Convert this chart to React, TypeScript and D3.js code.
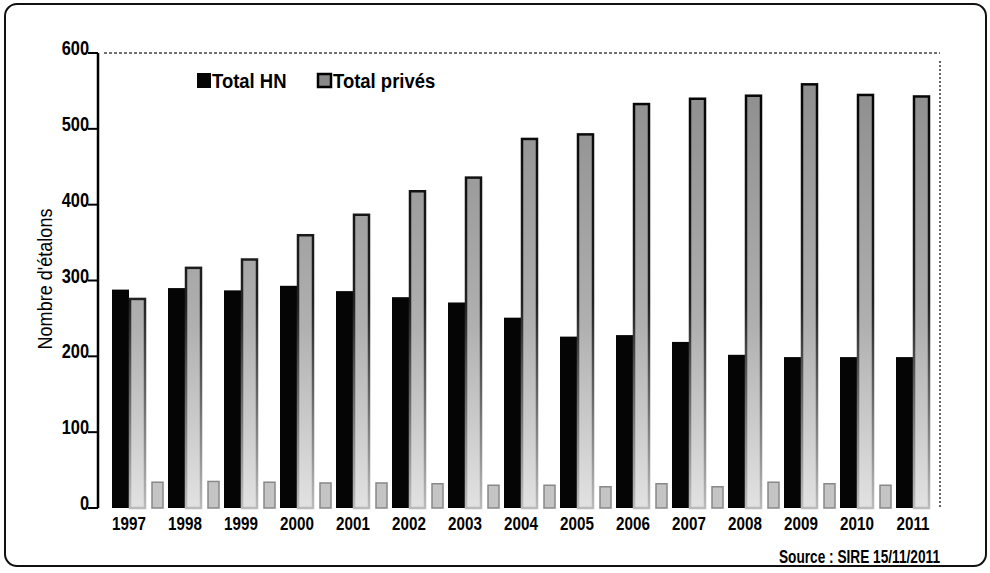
import React from "react";
import * as d3 from "d3";

const years = ["1997","1998","1999","2000","2001","2002","2003","2004","2005","2006","2007","2008","2009","2010","2011"];
const totalHN = [288, 290, 287, 293, 286, 278, 271, 251, 226, 228, 219, 202, 199, 199, 199];
const totalPrives = [277, 318, 329, 361, 388, 419, 437, 488, 494, 534, 541, 545, 560, 546, 544];
const smallSeries = [34, 35, 34, 33, 33, 32, 30, 30, 28, 32, 28, 34, 32, 30, 0];
const yTicks = [0, 100, 200, 300, 400, 500, 600];
const seriesNames = ["Total HN", "Total privés"];

const FONT = "'Liberation Sans', Arial, sans-serif";

type NTextProps = {
  x: number; y: number; sx: number; size: number; bold?: boolean;
  anchor?: "start" | "middle" | "end"; children: React.ReactNode; rotate?: number;
};
function NText({ x, y, sx, size, bold, anchor = "start", children, rotate = 0 }: NTextProps) {
  return (
    <g transform={`translate(${x},${y}) rotate(${rotate}) scale(${sx},1)`}>
      <text x={0} y={0} textAnchor={anchor} fontFamily={FONT} fontWeight={bold ? "bold" : "normal"} fontSize={size} fill="#000">
        {children}
      </text>
    </g>
  );
}

export default function App() {
  const W = 990, H = 573;
  const plotLeft = 98, plotRight = 940, plotTop = 53, plotBottom = 508;

  const y = d3.scaleLinear().domain([0, 600]).range([plotBottom, plotTop]);
  const x0 = d3.scaleBand<string>().domain(years).range([108, 948]).paddingInner(0).paddingOuter(0);
  const x1 = d3.scaleBand<string>().domain(seriesNames).range([4, 38]).padding(0);
  const smallOffset = 44, smallWidth = 11;

  return (
    <svg width={W} height={H} style={{ position: "absolute", left: 0, top: 0, background: "#fff" }}>
      <defs>
        <linearGradient id="privFill" gradientUnits="userSpaceOnUse" x1="0" y1={plotTop} x2="0" y2={plotBottom}>
          <stop offset="0" stopColor="#8a8a8a" />
          <stop offset="0.6" stopColor="#b0b0b0" />
          <stop offset="1" stopColor="#e2e2e2" />
        </linearGradient>
        <linearGradient id="privStroke" gradientUnits="userSpaceOnUse" x1="0" y1={plotTop} x2="0" y2={plotBottom}>
          <stop offset="0" stopColor="#000" />
          <stop offset="0.55" stopColor="#222" />
          <stop offset="1" stopColor="#bbb" />
        </linearGradient>
      </defs>

      {/* outer rounded frame */}
      <rect x={5} y={4} width={981} height={562} rx={12} ry={12} fill="none" stroke="#111" strokeWidth={2} />

      {/* top dotted line and right speckled border */}
      <line x1={plotLeft + 6} y1={plotTop} x2={plotRight} y2={plotTop} stroke="#444" strokeWidth={1.5} strokeDasharray="3 2" />
      <line x1={plotRight} y1={plotTop + 8} x2={plotRight} y2={plotBottom} stroke="#666" strokeWidth={2} strokeDasharray="2 2" />

      {/* bars */}
      {years.map((yr, i) => {
        const b = x0(yr)!;
        const hnX = b + x1("Total HN")!;
        const prX = b + x1("Total privés")!;
        const bw = x1.bandwidth();
        return (
          <g key={yr}>
            <rect x={hnX} y={y(totalHN[i])} width={bw} height={y(0) - y(totalHN[i])} fill="#050505" />
            <rect x={prX + 1} y={y(totalPrives[i]) + 1} width={bw - 2} height={y(0) - y(totalPrives[i]) - 1}
              fill="url(#privFill)" stroke="url(#privStroke)" strokeWidth={2.5} />
            {smallSeries[i] > 0 && (
              <rect x={b + smallOffset} y={y(smallSeries[i])} width={smallWidth} height={y(0) - y(smallSeries[i])}
                fill="#c4c4c4" stroke="#888" strokeWidth={1.5} />
            )}
          </g>
        );
      })}

      {/* y axis */}
      <line x1={plotLeft} y1={plotTop} x2={plotLeft} y2={plotBottom} stroke="#000" strokeWidth={2.5} />
      {yTicks.map((t) => (
        <g key={t}>
          <line x1={plotLeft - 10} y1={y(t)} x2={plotLeft} y2={y(t)} stroke="#000" strokeWidth={2} />
          <NText x={plotLeft - 9} y={y(t) + 2} sx={0.78} size={21} bold anchor="end">{t}</NText>
        </g>
      ))}

      {/* x labels */}
      {years.map((yr) => (
        <NText key={yr} x={x0(yr)! + 21} y={530} sx={0.8} size={19} bold anchor="middle">{yr}</NText>
      ))}

      {/* y title */}
      <NText x={52} y={279} sx={0.86} size={21} anchor="middle" rotate={-90}>Nombre d'étalons</NText>

      {/* legend */}
      <rect x={197} y={73} width={14} height={15} fill="#050505" />
      <NText x={212} y={88} sx={0.88} size={21} bold>{seriesNames[0]}</NText>
      <rect x={318} y={74} width={13} height={13} fill="#888" stroke="#000" strokeWidth={2.5} />
      <NText x={333} y={88} sx={0.88} size={21} bold>{seriesNames[1]}</NText>

      {/* source */}
      <NText x={940} y={563} sx={0.76} size={18} bold anchor="end">Source : SIRE 15/11/2011</NText>
    </svg>
  );
}
